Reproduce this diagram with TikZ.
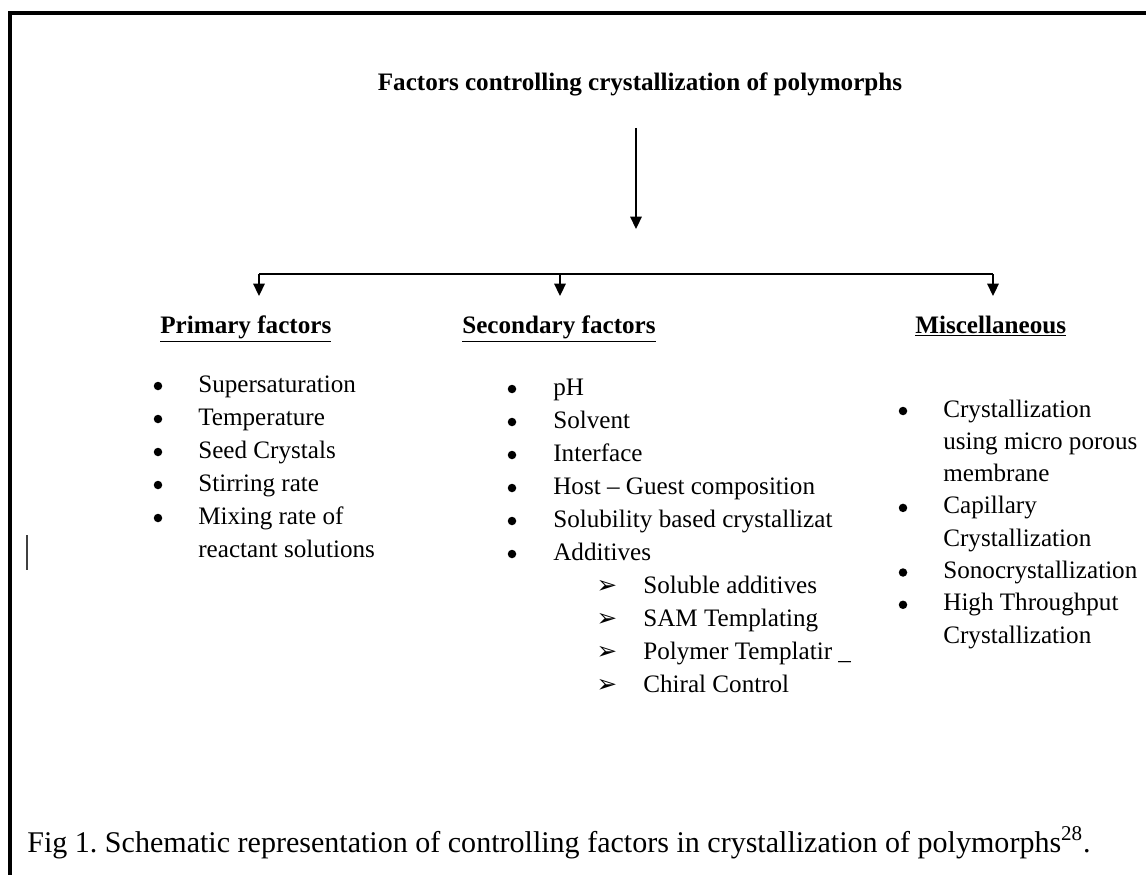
\documentclass[tikz,border=0pt]{standalone}
\usepackage{fontspec}
\setmainfont{Liberation Serif}
\newfontfamily\symfont{DejaVu Sans}
\usepackage{tikz}
\usetikzlibrary{positioning, arrows.meta}
\frenchspacing

\begin{document}
\begin{tikzpicture}[
  x=0.02cm, y=-0.02cm,
  font=\fontsize{14.3}{18}\selectfont,
  titletext/.style={font=\fontsize{14.3}{18}\selectfont\bfseries, inner sep=0pt, anchor=base},
  headtext/.style={font=\fontsize{14.3}{18}\selectfont\bfseries, inner sep=0pt, anchor=base west},
  itemtext/.style={inner sep=0pt, anchor=base west},
  bulletdot/.style={circle, fill=black, inner sep=0pt, minimum size=0.17cm},
  subarrow/.style={inner sep=0pt, anchor=base, font=\symfont\fontsize{14}{16}\selectfont},
  captext/.style={font=\fontsize{17.1}{20}\selectfont, inner sep=0pt, anchor=base west},
  arrowline/.style={-{Triangle[length=7pt, width=6.5pt]}, line width=1pt},
  branch/.style={line width=1pt}
]
\useasboundingbox (0,0) rectangle (1146,875);

% frame (cut at right and bottom)
\draw[line width=1.9pt] (10,875) -- (10,13) -- (1146,13);
\draw[line width=1.2pt, black!75] (27,535) -- (27,570);

\node[titletext] (title) at (640,91) {Factors controlling crystallization of polymorphs};

% stem and branch bar
\coordinate (stem top) at (636,128);
\coordinate (stem tip) at (636,229);
\draw[arrowline] (stem top) -- (stem tip);

\coordinate (bar west) at (259,274);
\coordinate (bar mid) at (560,274);
\coordinate (bar east) at (993,274);
\draw[branch] (bar west) -- (bar east);
\foreach \c in {bar west, bar mid, bar east}
  \draw[arrowline] (\c) -- ++(0,22);

% headings
\node[headtext] (primary) at (160,333) {\underline{Primary factors}};
\node[headtext] (secondary) at (462,333) {\underline{Secondary factors}};
\node[headtext] (misc) at (915,333) {\underline{Miscellaneous}};

% primary factors
\foreach \t [count=\i from 0] in {Supersaturation, Temperature, Seed Crystals,
    Stirring rate, Mixing rate of, reactant solutions}
  \node[itemtext] (pri-\i) at (198,392+33*\i) {\t};
\foreach \i in {0,...,4}
  \node[bulletdot] (pri-b\i) at (158,386+33*\i) {};

% secondary factors
\foreach \t [count=\i from 0] in {pH, Solvent, Interface, Host -- Guest composition,
    Solubility based crystallizat, Additives}
  \node[itemtext] (sec-\i) at (553,395+33*\i) {\t};
\foreach \i in {0,...,5}
  \node[bulletdot] (sec-b\i) at (512,389+33*\i) {};
\foreach \t [count=\i from 0] in {Soluble additives, SAM Templating,
    Polymer Templatir \_, Chiral Control}
  \node[itemtext] (add-\i) at (643,593+33*\i) {\t};
\foreach \i in {0,...,3}
  \node[subarrow] (add-b\i) at (607,593+33*\i) {➢};

% miscellaneous
\foreach \t [count=\i from 0] in {Crystallization, using micro porous, membrane,
    Capillary, Crystallization, Sonocrystallization, High Throughput, Crystallization}
  \node[itemtext] (misc-\i) at (943,417+32.3*\i) {\t};
\foreach \i in {0,3,5,6}
  \node[bulletdot] (misc-b\i) at (903,411+32.3*\i) {};

\node[captext] (caption) at (27,852)
  {Fig 1. Schematic representation of controlling factors in crystallization of polymorphs\textsuperscript{28}.};

\end{tikzpicture}
\end{document}
